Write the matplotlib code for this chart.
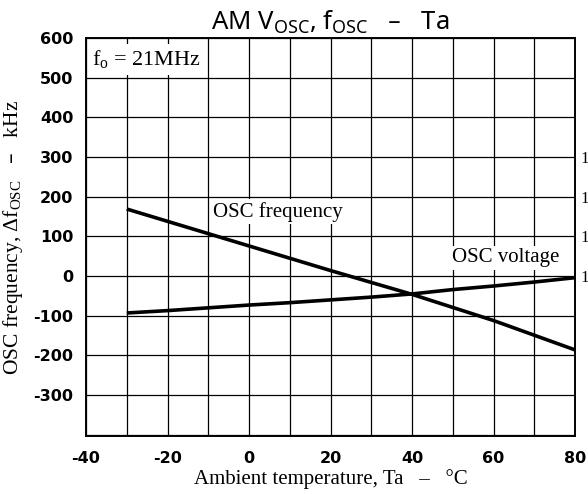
import matplotlib
matplotlib.use("Agg")
import matplotlib.pyplot as plt

# Data
temp = [-30, -20, -10, 0, 10, 20, 30, 40, 50, 60, 70, 80]
osc_freq = [169, 138, 107, 76, 45, 14, -16, -46, -79, -112, -149, -186]
osc_volt = [-93, -87, -80, -73, -67, -60, -53, -45, -34, -25, -15, -4]
xticks = [-40, -20, 0, 20, 40, 60, 80]
yticks = [600, 500, 400, 300, 200, 100, 0, -100, -200, -300]
right_ticks = [300, 200, 100, 0]
right_labels = ["1", "1", "1", "1"]

fig = plt.figure(figsize=(5.88, 4.94), dpi=100)
ax = fig.add_axes([86/588, 1-436/494, (575-86)/588, (436-38)/494])

ax.set_xlim(-40, 80)
ax.set_ylim(-403, 600)
ax.set_xticks(xticks)
ax.set_xticks(range(-30, 80, 10), minor=True)
ax.set_yticks(yticks)
ax.set_yticks([-400], minor=True)
ax.grid(True, which="both", color="black", linewidth=0.9)
ax.set_axisbelow(True)
ax.tick_params(which="both", length=0)
ax.tick_params(axis="y", pad=9)
ax.tick_params(axis="x", pad=11)
tick_font = dict(family="DejaVu Sans", weight="bold", size=11.5)
ax.set_xticklabels([str(v) for v in xticks], fontdict=tick_font)
ax.set_yticklabels([str(v) for v in yticks], fontdict=tick_font)

for s in ax.spines.values():
    s.set_linewidth(1.4)

ax.plot(temp, osc_freq, color="black", linewidth=2.6, solid_capstyle="butt")
ax.plot(temp, osc_volt, color="black", linewidth=2.6, solid_capstyle="butt")

serif = "Liberation Serif"
ax.text(-8.8, 162, "OSC frequency", family=serif, fontsize=15, va="center", ha="left",
        bbox=dict(facecolor="white", edgecolor="none", pad=2))
ax.text(49.8, 46, "OSC voltage", family=serif, fontsize=15, va="center", ha="left",
        bbox=dict(facecolor="white", edgecolor="none", pad=2))
ax.text(0.012, 0.975, r"f$_\mathregular{o}$ = 21MHz", transform=ax.transAxes, family=serif,
        fontsize=16, va="top", ha="left",
        bbox=dict(facecolor="white", edgecolor="none", pad=3))

ax.set_xlabel("Ambient temperature, Ta   \u2013   \u00b0C", family=serif, fontsize=15, labelpad=2)
ax.set_ylabel("OSC frequency, \u0394f$_\\mathregular{OSC}$   \u2013   kHz", family=serif,
              fontsize=15.5, labelpad=6)

ax.set_title("AM V$_\\mathregular{OSC}$, f$_\\mathregular{OSC}$   \u2013   Ta", family="Noto Sans",
             fontsize=18.5, pad=6)

ax2 = ax.twinx()
ax2.set_ylim(ax.get_ylim())
ax2.set_yticks(right_ticks)
ax2.set_yticklabels(right_labels, family="Liberation Serif", fontsize=12)
ax2.tick_params(length=0, pad=4)
for s in ax2.spines.values():
    s.set_visible(False)

fig.savefig("out.png", dpi=100)
